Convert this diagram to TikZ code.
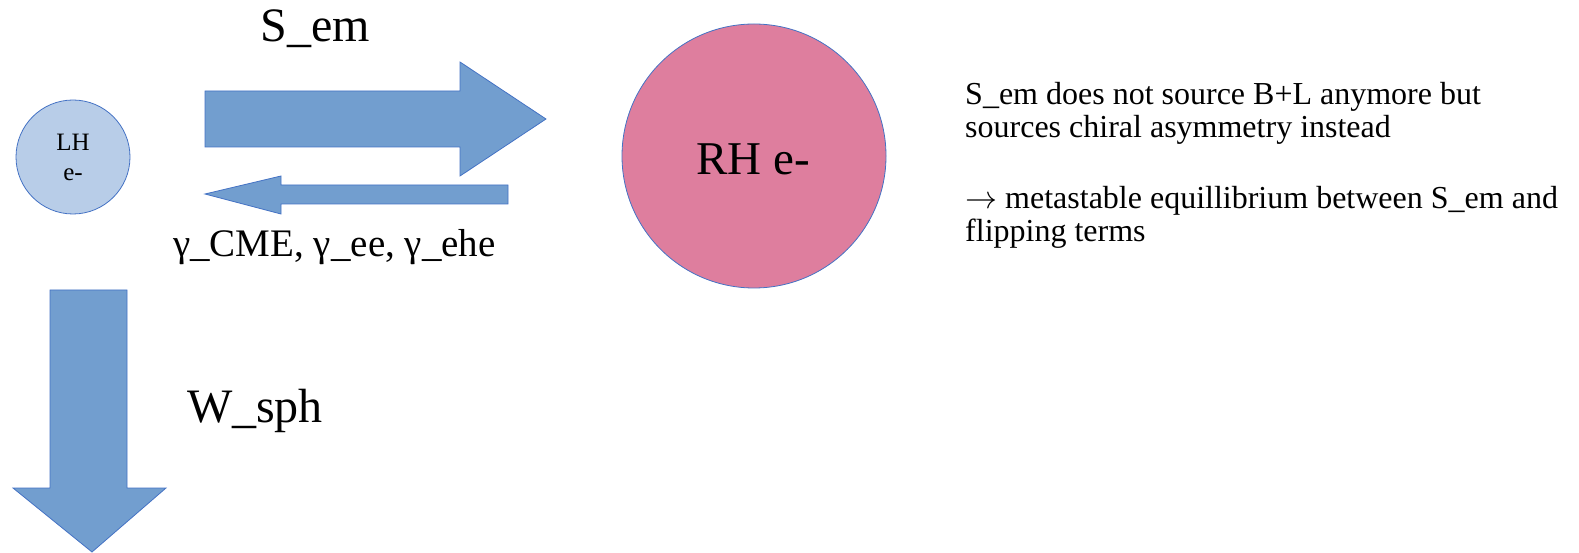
\RequirePackage{fix-cm}
\documentclass[tikz,border=0pt]{standalone}
\usepackage{fontspec}
\setmainfont{Liberation Serif}
\definecolor{arrowfill}{RGB}{114,158,207}
\definecolor{edgeblue}{RGB}{68,114,196}
\definecolor{lhfill}{RGB}{184,205,232}
\definecolor{rhfill}{RGB}{222,126,158}
\tikzset{
  blockarrow/.style={fill=arrowfill, draw=edgeblue, line width=0.8pt, line join=miter},
  particle/.style={circle, draw=edgeblue, line width=0.8pt, inner sep=0pt, align=center},
  lbl/.style={inner sep=0pt, text=black},
  bodytext/.style={lbl, anchor=base west, font=\fontsize{32}{36}\selectfont},
}
\begin{document}
\begin{tikzpicture}[x=1pt,y=-1pt]
\useasboundingbox (0,0) rectangle (1579,553);
% particles
\node[particle, fill=lhfill, minimum size=114pt, font=\fontsize{25}{30}\selectfont] (lh) at (73,157) {LH\\e-};
\node[particle, fill=rhfill, minimum size=264pt, font=\fontsize{47}{54}\selectfont] (rh) at (754,156) {};
\node[lbl, anchor=base, font=\fontsize{47}{54}\selectfont] (rhtext) at (753,175) {RH e-};
% S_em arrow
\coordinate (semtail) at (205,119);
\coordinate (semtip) at (546,119);
\draw[blockarrow] (205,91) -- (460,91) -- (460,62) -- (semtip) -- (460,176) -- (460,147) -- (205,147) -- cycle;
% back arrow
\coordinate (backtip) at (205,194);
\draw[blockarrow] (508,185) -- (281,185) -- (281,176) -- (backtip) -- (281,214) -- (281,204) -- (508,204) -- cycle;
% W_sph arrow
\coordinate (wtip) at (92,552);
\draw[blockarrow] (50,290) -- (127,290) -- (127,488) -- (166,488) -- (wtip) -- (13,488) -- (50,488) -- cycle;
% labels
\node[lbl, anchor=base, font=\fontsize{48}{55}\selectfont] (sem) at (315,42) {S\_em};
\node[lbl, anchor=base, font=\fontsize{48}{55}\selectfont] (wsph) at (255,422) {W\_sph};
\node[lbl, anchor=base west, font=\fontsize{39}{45}\selectfont] (gam) at (173,257) {γ\_CME, γ\_ee, γ\_ehe};
% right text
\node[bodytext] (t1) at (965,105) {S\_em does not source B+L anymore but};
\node[bodytext] (t2) at (965,138) {sources chiral asymmetry instead};
\node[bodytext] (t3) at (965,209) {$\rightarrow$ metastable equillibrium between S\_em and};
\node[bodytext] (t4) at (965,242) {flipping terms};
\end{tikzpicture}
\end{document}
